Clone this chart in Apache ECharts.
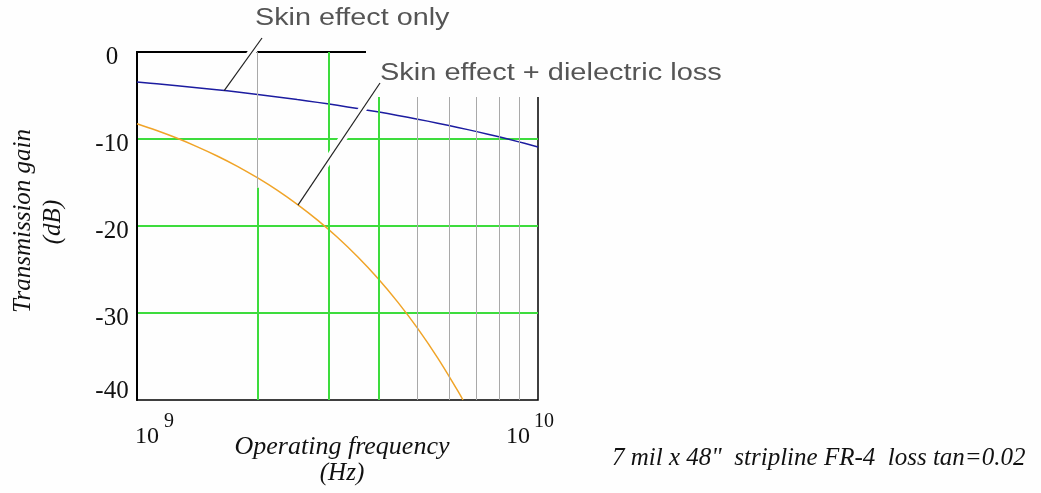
<!DOCTYPE html>
<html><head><meta charset="utf-8">
<script src="https://cdn.jsdelivr.net/npm/echarts@6/dist/echarts.min.js"></script>
<style>html,body{margin:0;padding:0;background:#fefefe;} #c{width:1041px;height:493px;}</style>
</head><body><div id="c"></div>
<script>
// ---- data ----
const freqHz = [1e9,1.12e9,1.26e9,1.41e9,1.58e9,1.78e9,2e9,2.24e9,2.51e9,2.82e9,3.16e9,3.55e9,3.98e9,4.47e9,5.01e9,5.62e9,6.31e9,7.08e9,7.94e9,8.91e9,1e10];
const skinOnlyDb = [-3.45,-3.65,-3.87,-4.10,-4.34,-4.60,-4.88,-5.16,-5.47,-5.79,-6.13,-6.50,-6.88,-7.29,-7.72,-8.18,-8.67,-9.18,-9.72,-10.30,-10.91];
const skinDielFreqHz = [1e9,1.12e9,1.26e9,1.41e9,1.58e9,1.78e9,2e9,2.24e9,2.51e9,2.82e9,3.16e9,3.55e9,3.98e9,4.47e9,5.01e9,5.62e9,6.31e9,6.5e9];
const skinDielDb = [-8.25,-9.03,-9.92,-10.87,-11.92,-13.14,-14.48,-15.91,-17.52,-19.33,-21.30,-23.54,-25.98,-28.75,-31.77,-35.16,-38.96,-40.0];
const yTicks = [-40,-30,-20,-10,0];
const xTickExponents = [9,10];
const gridFreqHz = [2e9,3e9,4e9,5e9,6e9,7e9,8e9,9e9];
const greenGridFreqHz = [3e9,4e9];
const splitGridFreqHz = [2e9];
const labelSkin = 'Skin effect only';
const labelSkinDiel = 'Skin effect + dielectric loss';
const anchorSkin = [1.65e9, -4.45];
const anchorSkinDiel = [2.52e9, -17.6];
const yTitle = ['Transmission gain', '(dB)'];
const xTitle = ['Operating frequency', '(Hz)'];
const note = '7 mil x 48"  stripline FR-4  loss tan=0.02';

const BG = '#fefefe';
const GREEN = '#3ddc3d';
const GRAY = '#a9a9a9';
const SERIF = '"Liberation Serif", "Times New Roman", serif';
const SANS = '"Liberation Sans", Arial, sans-serif';

const chart = echarts.init(document.getElementById('c'), null, {renderer: 'canvas'});

const yMin = yTicks[0], yMax = yTicks[yTicks.length - 1];
const green = {color: GREEN, width: 2, type: 'solid'};
const gray = {color: GRAY, width: 1, type: 'solid'};
const vLines = [];
gridFreqHz.forEach(f => {
  if (splitGridFreqHz.includes(f)) {
    vLines.push([{xAxis: f, yAxis: yMax, lineStyle: gray}, {xAxis: f, yAxis: -15.6}]);
    vLines.push([{xAxis: f, yAxis: -15.6, lineStyle: green}, {xAxis: f, yAxis: yMin}]);
  } else if (greenGridFreqHz.includes(f)) {
    vLines.push([{xAxis: f, yAxis: yMax, lineStyle: green}, {xAxis: f, yAxis: yMin}]);
  } else {
    vLines.push([{xAxis: f, yAxis: yMax, lineStyle: gray}, {xAxis: f, yAxis: yMin}]);
  }
});

const option = {
  animation: false,
  backgroundColor: BG,
  grid: {left: 137, top: 52, right: 503, bottom: 93, show: true, borderColor: '#000', borderWidth: 1.5, containLabel: false},
  xAxis: {
    type: 'log', logBase: 10,
    min: Math.pow(10, xTickExponents[0]), max: Math.pow(10, xTickExponents[1]),
    axisLine: {show: true, lineStyle: {color: '#000', width: 2}},
    axisTick: {show: false},
    splitLine: {show: false},
    minorTick: {show: false}, minorSplitLine: {show: false},
    axisLabel: {
      margin: 12,
      formatter: v => {
        const e = Math.round(Math.log10(v));
        return e === xTickExponents[1] ? '{b|10}{m|' + e + '}' : '{bl|10}{s|' + e + '}';
      },
      rich: {
        b: {fontFamily: SERIF, fontSize: 24, color: '#111', lineHeight: 50},
        bl: {fontFamily: SERIF, fontSize: 24, color: '#111', lineHeight: 50, padding: [0, 0, 0, 35]},
        s: {fontFamily: SERIF, fontSize: 20, color: '#111', verticalAlign: 'top', padding: [0, 0, 0, 5]},
        m: {fontFamily: SERIF, fontSize: 20, color: '#111', verticalAlign: 'top', padding: [0, 16, 0, 4]}
      }
    }
  },
  yAxis: {
    type: 'value', min: yMin, max: yMax, interval: 10,
    axisLine: {show: true, lineStyle: {color: '#000', width: 2}},
    axisTick: {show: false},
    axisLabel: {
      align: 'center', margin: 25,
      formatter: v => (v === yMin ? '{c|' + v + '}' : '{a|' + v + '}'),
      rich: {
        a: {fontFamily: SERIF, fontSize: 25, color: '#111', padding: [10, 0, 0, 0]},
        c: {fontFamily: SERIF, fontSize: 25, color: '#111', padding: [0, 0, 18, 0]}
      }
    },
    splitLine: {show: true, showMinLine: false, showMaxLine: false, lineStyle: {color: GREEN, width: 2}}
  },
  series: [
    {
      name: 'grid', type: 'line', data: [], z: 1, silent: true,
      markLine: {silent: true, symbol: ['none', 'none'], label: {show: false}, data: vLines, animation: false}
    },
    {
      name: labelSkin, type: 'line', z: 3, showSymbol: false, smooth: 0.4,
      data: freqHz.map((f, i) => [f, skinOnlyDb[i]]),
      lineStyle: {color: '#1c1ca0', width: 1.5}
    },
    {
      name: labelSkinDiel, type: 'line', z: 3, showSymbol: false, smooth: 0.4,
      data: skinDielFreqHz.map((f, i) => [f, skinDielDb[i]]),
      lineStyle: {color: '#f0a428', width: 1.5}
    }
  ]
};
chart.setOption(option);

function leader(anchor, top, haloStart) {
  const p = chart.convertToPixel({gridIndex: 0}, anchor);
  const hs = [p[0] + haloStart * (top[0] - p[0]), p[1] + haloStart * (top[1] - p[1])];
  return [
    {type: 'line', z: 110, silent: true, shape: {x1: hs[0], y1: hs[1], x2: top[0], y2: top[1]}, style: {stroke: BG, lineWidth: 8}},
    {type: 'line', z: 111, silent: true, shape: {x1: p[0], y1: p[1], x2: top[0], y2: top[1]}, style: {stroke: '#222', lineWidth: 1.2}}
  ];
}

const graphics = [
  {type: 'rect', z: 100, silent: true, shape: {x: 366, y: 40, width: 380, height: 57}, style: {fill: BG}},
  ...leader(anchorSkin, [262, 38], 0.3),
  ...leader(anchorSkinDiel, [380, 83], 0.15),
  {type: 'text', z: 120, x: 255, y: 19, scaleX: 1.25, style: {text: labelSkin, font: '23px ' + SANS, fill: '#555', align: 'left', verticalAlign: 'middle'}},
  {type: 'text', z: 120, x: 380, y: 74, scaleX: 1.26, style: {text: labelSkinDiel, font: '23px ' + SANS, fill: '#555', align: 'left', verticalAlign: 'middle'}},
  {type: 'text', z: 120, x: 23, y: 221, rotation: Math.PI / 2, style: {text: yTitle[0], font: 'italic 25px ' + SERIF, fill: '#111', align: 'center', verticalAlign: 'middle'}},
  {type: 'text', z: 120, x: 53, y: 222, rotation: Math.PI / 2, style: {text: yTitle[1], font: 'italic 25px ' + SERIF, fill: '#111', align: 'center', verticalAlign: 'middle'}},
  {type: 'text', z: 120, x: 342, y: 447, style: {text: xTitle[0], font: 'italic 26px ' + SERIF, fill: '#111', align: 'center', verticalAlign: 'middle'}},
  {type: 'text', z: 120, x: 342, y: 473, style: {text: xTitle[1], font: 'italic 25px ' + SERIF, fill: '#111', align: 'center', verticalAlign: 'middle'}},
  {type: 'text', z: 120, x: 612, y: 458, style: {text: note, font: 'italic 25px ' + SERIF, fill: '#111', align: 'left', verticalAlign: 'middle'}}
];
chart.setOption({graphic: graphics});
</script>
</body></html>
